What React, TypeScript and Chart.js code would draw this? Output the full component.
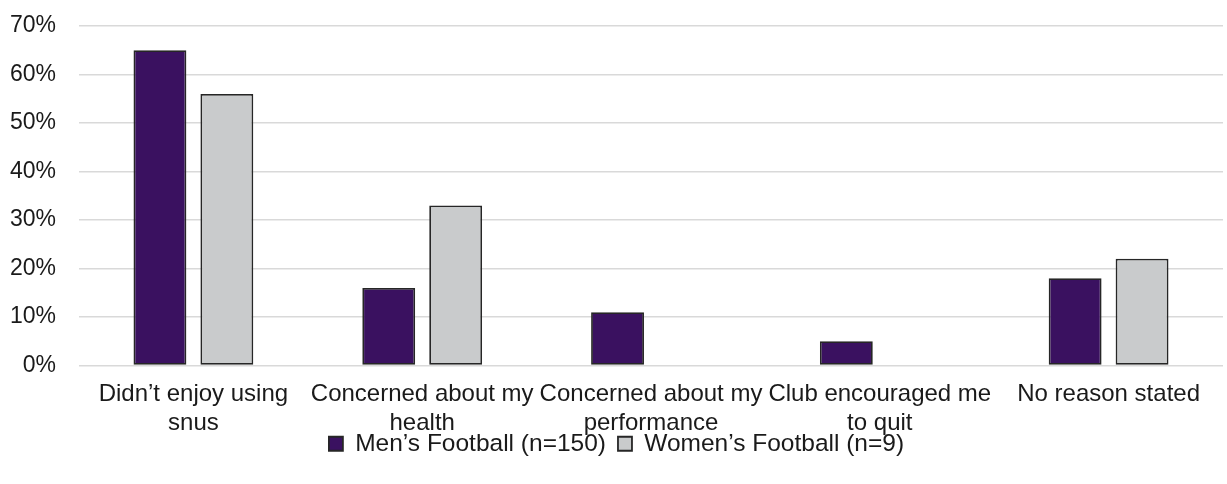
import React, { useEffect, useRef } from "react";
import { Chart, registerables } from "chart.js";

Chart.register(...registerables);

const categories: string[][] = [
  ["Didn\u2019t enjoy using", "snus"],
  ["Concerned about my", "health"],
  ["Concerned about my", "performance"],
  ["Club encouraged me", "to quit"],
  ["No reason stated"],
];
const mensValues = [65, 16, 11, 5, 18];
const womensValues = [56, 33, 0, 0, 22];
const seriesLabels = ["Men\u2019s Football (n=150)", "Women\u2019s Football (n=9)"];
const yTicks = [0, 10, 20, 30, 40, 50, 60, 70];

const FONT = "'Liberation Sans', Arial, sans-serif";

export default function App() {
  const ref = useRef<HTMLCanvasElement | null>(null);
  useEffect(() => {
    document.body.style.margin = "0";
    const ctx = ref.current!;
    const chart = new Chart(ctx, {
      type: "bar",
      data: {
        labels: categories,
        datasets: [
          {
            label: seriesLabels[0],
            data: mensValues,
            backgroundColor: "#3A1160",
            borderColor: "#262626",
            borderWidth: (c: any) => (c.raw === 0 ? 0 : 1.8),
            borderSkipped: false,
            categoryPercentage: 0.585,
            barPercentage: 0.79,
          },
          {
            label: seriesLabels[1],
            data: womensValues,
            backgroundColor: "#C9CBCC",
            borderColor: "#262626",
            borderWidth: (c: any) => (c.raw === 0 ? 0 : 1.8),
            borderSkipped: false,
            categoryPercentage: 0.585,
            barPercentage: 0.79,
          },
        ],
      },
      options: {
        animation: false,
        responsive: false,
        maintainAspectRatio: false,
        layout: { padding: { left: 10, right: 4, top: 26, bottom: 18 } },
        plugins: {
          tooltip: { enabled: false },
          legend: {
            position: "bottom",
            labels: {
              font: { family: FONT, size: 24.5 },
              color: "#1a1a1a",
              boxWidth: 14,
              boxHeight: 14,
              padding: 12,
              useBorderRadius: false,
            },
          },
        },
        scales: {
          x: {
            grid: { display: false },
            border: { display: false },
            afterFit: (axis: any) => {
              axis.height = 54;
              axis.paddingLeft = 0;
              axis.paddingRight = 0;
              axis._computeLabelArea = () => undefined;
            },
            ticks: {
              color: "#1a1a1a",
              font: { family: FONT, size: 24, lineHeight: 1.22 },
              maxRotation: 0,
              autoSkip: false,
              padding: 6,
            },
          },
          y: {
            min: 0,
            max: 70,
            afterBuildTicks: (axis: any) => {
              axis.ticks = yTicks.map((v) => ({ value: v }));
            },
            afterFit: (axis: any) => {
              axis.width = 69;
              axis.paddingTop = 0;
              axis.paddingBottom = 0;
            },
            grid: { color: "#D9D9D9", lineWidth: 1.5, drawTicks: false },
            border: { display: false },
            ticks: {
              color: "#1a1a1a",
              font: { family: FONT, size: 23 },
              padding: 23,
              callback: (v: any) => v + "%",
            },
          },
        },
      },
    } as any);
    return () => chart.destroy();
  }, []);
  return (
    <div style={{ width: 1227, height: 484 }}>
      <canvas ref={ref} width={1227} height={484} />
    </div>
  );
}
